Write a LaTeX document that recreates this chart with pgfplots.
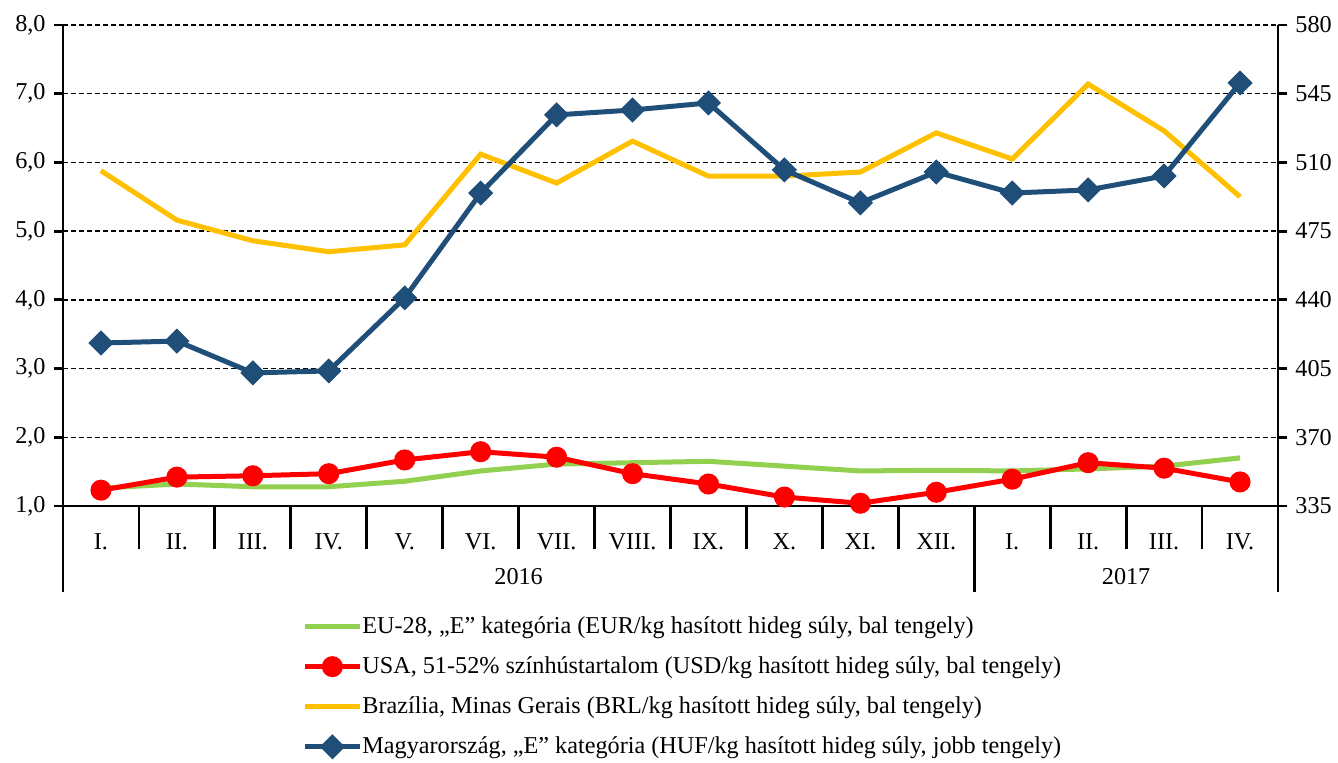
\documentclass[border=0pt]{standalone}
\usepackage{fontspec}
\setmainfont{Liberation Serif}
\usepackage{pgfplots}
\pgfplotsset{compat=1.18}
\definecolor{cgreen}{RGB}{146,208,80}
\definecolor{cred}{RGB}{255,0,0}
\definecolor{cyellow}{RGB}{255,192,0}
\definecolor{cblue}{RGB}{31,78,121}
\begin{document}
\fontsize{12.1}{14.5}\selectfont
\begin{tikzpicture}[font=\fontsize{12.1}{14.5}\selectfont]
\useasboundingbox (-31.5pt,-128.5pt) rectangle (637.5pt,253pt);
\begin{axis}[
  at={(0,0)}, anchor=south west,
  scale only axis, width=607.5pt, height=240.5pt,
  xmin=-0.5, xmax=15.5, ymin=1, ymax=8,
  axis x line*=bottom, axis y line*=left,
  axis line style={line width=1.4pt, black, -},
  xtick={0,...,15},
  xticklabels={I.,II.,III.,IV.,V.,VI.,VII.,VIII.,IX.,X.,XI.,XII.,I.,II.,III.,IV.},
  x tick style={draw=none},
  xticklabel style={anchor=center, yshift=-13.5pt},
  ytick={1,2,...,8},
  yticklabel={\pgfmathprintnumber[fixed,fixed zerofill,precision=1,use comma,assume math mode=true]{\tick}},
  y tick style={line width=1.4pt, black},
  tick align=outside, major tick length=4.5pt,
  ymajorgrids, major grid style={dash pattern=on 2.6pt off 1.4pt, line width=0.7pt, black},
  legend style={at={(0.1967,0)}, anchor=north west, yshift=-55pt, draw=none, fill=none, inner sep=0pt, row sep=9.8pt,
    nodes={inner sep=0pt}},
  legend cell align=left,
  legend image code/.code={\draw[mark repeat=2,mark phase=2,#1] plot coordinates {(0pt,0pt)(13.75pt,0pt)(27.5pt,0pt)};},
  clip=false,
]
\addplot[cgreen, line width=2.5pt, no markers] coordinates {
(0,1.26)(1,1.32)(2,1.28)(3,1.28)(4,1.36)(5,1.51)(6,1.61)(7,1.63)(8,1.65)(9,1.58)(10,1.51)(11,1.52)(12,1.51)(13,1.54)(14,1.58)(15,1.70)};
\addlegendentry{EU-28, „E” kategória (EUR/kg hasított hideg súly, bal tengely)}
\addplot[cred, line width=2.5pt, mark=*, mark size=4pt] coordinates {
(0,1.23)(1,1.42)(2,1.44)(3,1.47)(4,1.67)(5,1.79)(6,1.71)(7,1.47)(8,1.32)(9,1.13)(10,1.04)(11,1.20)(12,1.39)(13,1.63)(14,1.55)(15,1.35)};
\addlegendentry{USA, 51-52\% színhústartalom (USD/kg hasított hideg súly, bal tengely)}
\addplot[cyellow, line width=2.5pt, no markers] coordinates {
(0,5.88)(1,5.16)(2,4.86)(3,4.70)(4,4.80)(5,6.12)(6,5.70)(7,6.31)(8,5.80)(9,5.80)(10,5.86)(11,6.43)(12,6.05)(13,7.14)(14,6.46)(15,5.50)};
\addlegendentry{Brazília, Minas Gerais (BRL/kg hasított hideg súly, bal tengely)}
\addlegendimage{cblue, line width=2.5pt, mark=square*, mark size=3.2pt, mark options={rotate=45}}
\addlegendentry{Magyarország, „E” kategória (HUF/kg hasított hideg súly, jobb tengely)}
\pgfplotsinvokeforeach{0.5,1.5,...,14.5}{\draw[line width=1.4pt, black] (axis cs:#1,1) -- ++(0pt,-21.5pt);}
\draw[line width=1.4pt, black] (axis cs:-0.5,1) -- ++(0pt,-43pt);
\draw[line width=1.4pt, black] (axis cs:15.5,1) -- ++(0pt,-43pt);
\draw[line width=1.4pt, black] (axis cs:11.5,1) -- ++(0pt,-43pt);
\node at (axis cs:5.5,1) [yshift=-35.5pt] {2016};
\node at (axis cs:13.5,1) [yshift=-35.5pt] {2017};
\end{axis}
\begin{axis}[
  at={(0,0)}, anchor=south west,
  scale only axis, width=607.5pt, height=240.5pt,
  xmin=-0.5, xmax=15.5, ymin=335, ymax=580,
  axis x line=none, axis y line*=right,
  axis line style={line width=1.4pt, black, -},
  ytick={335,370,...,580},
  yticklabel={\pgfmathprintnumber[fixed,precision=0,assume math mode=true]{\tick}},
  y tick style={line width=1.4pt, black},
  tick align=outside, major tick length=4.5pt,
  clip=false,
]
\addplot[cblue, line width=2.5pt, mark=square*, mark size=3.2pt, mark options={rotate=45}] coordinates {
(0,418.0)(1,419.0)(2,402.8)(3,403.8)(4,441.0)(5,494.4)(6,534.2)(7,536.7)(8,540.3)(9,506.2)(10,489.4)(11,505.1)(12,494.4)(13,496.0)(14,503.1)(15,550.5)};
\end{axis}
\end{tikzpicture}
\end{document}
